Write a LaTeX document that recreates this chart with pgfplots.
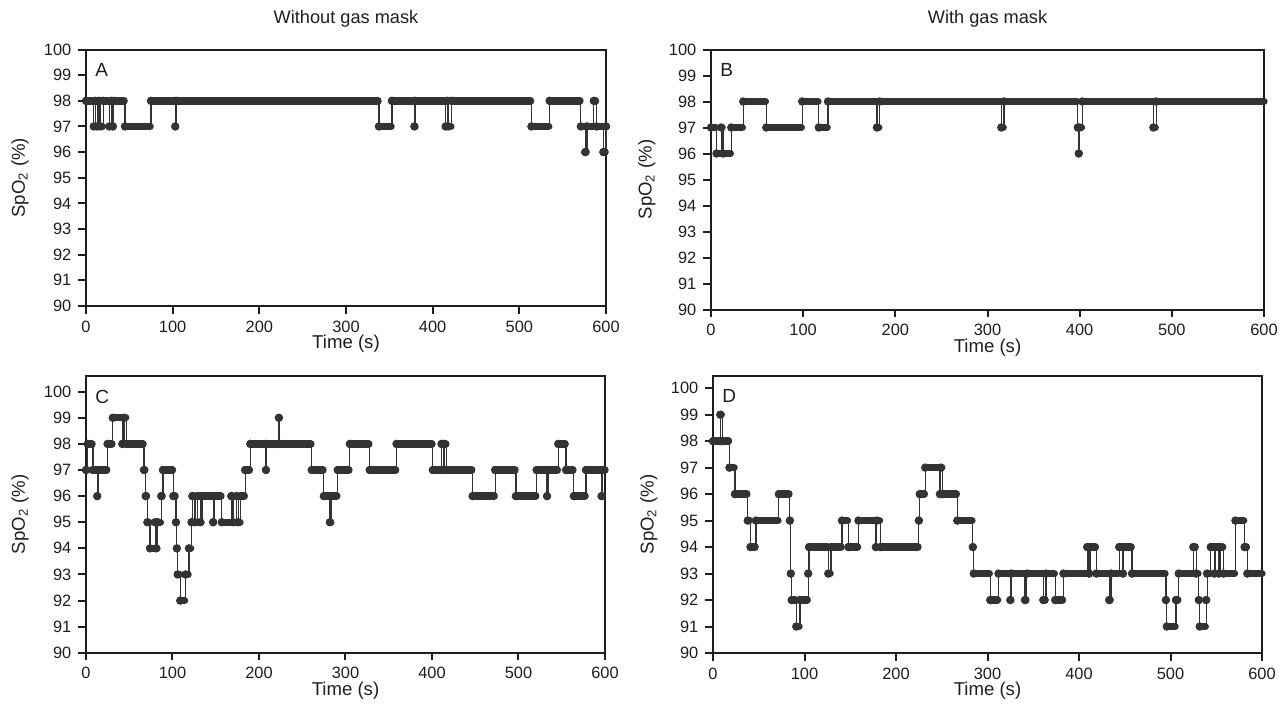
\documentclass[border=0pt]{standalone}
\usepackage{fontspec}
\setmainfont{Liberation Sans}
\usepackage{pgfplots}
\usepackage{pgfplotstable}
\pgfplotsset{compat=1.18}
\definecolor{dgray}{HTML}{333333}
\definecolor{axgray}{HTML}{1E1E1E}

% runs of equal SpO2: start (s), end (s), value (%)
\pgfplotstableread{
t0 t1 v
0 8 98
9 10 97
11 12 98
13 14 97
15 16 98
17 19 97
20 26 98
27 28 97
29 30 98
31 31 97
32 44 98
45 74 97
75 102 98
103 103 97
104 337 98
338 352 97
353 378 98
379 379 97
380 414 98
415 416 97
417 417 98
418 421 97
422 513 98
514 534 97
535 570 98
571 575 97
576 577 96
578 585 97
586 588 98
589 596 97
597 599 96
600 600 97
}\runsA

\pgfplotstableread{
t0 t1 v
0 5 97
6 10 96
11 12 97
13 21 96
22 34 97
35 59 98
60 98 97
99 116 98
117 126 97
127 179 98
180 182 97
183 314 98
315 317 97
318 397 98
398 398 97
399 399 96
400 402 97
403 479 98
480 482 97
483 600 98
}\runsB

\pgfplotstableread{
t0 t1 v
0 1 97
2 7 98
8 12 97
13 13 96
14 24 97
25 30 98
31 41 99
42 43 98
44 46 99
47 66 98
67 68 97
69 70 96
71 73 95
74 79 94
80 80 95
81 82 94
83 86 95
87 88 96
89 100 97
101 103 96
104 104 95
105 105 94
106 108 93
109 114 92
115 118 93
119 121 94
122 122 95
123 125 96
126 128 95
129 131 96
132 133 95
134 146 96
147 147 95
148 156 96
157 167 95
168 169 96
170 173 95
174 175 96
176 178 95
179 183 96
184 189 97
190 207 98
208 208 97
209 222 98
223 223 99
224 260 98
261 274 97
275 281 96
282 283 95
284 290 96
291 304 97
305 327 98
328 358 97
359 400 98
401 410 97
411 412 98
413 413 97
414 416 98
417 446 97
447 472 96
473 496 97
497 520 96
521 532 97
533 533 96
534 545 97
546 554 98
555 563 97
564 577 96
578 595 97
596 596 96
597 600 97
}\runsC

\pgfplotstableread{
t0 t1 v
0 7 98
8 9 99
10 17 98
18 23 97
24 37 96
38 40 95
41 46 94
47 71 95
72 83 96
84 84 95
85 85 93
86 90 92
91 94 91
95 103 92
104 104 93
105 125 94
126 128 93
129 140 94
141 147 95
148 158 94
159 177 95
178 178 94
179 182 95
183 224 94
225 225 95
226 231 96
232 247 97
248 248 96
249 250 97
251 266 96
267 283 95
284 284 94
285 302 93
303 311 92
312 324 93
325 325 92
326 340 93
341 342 92
343 360 93
361 363 92
364 373 93
374 382 92
383 408 93
409 410 94
411 411 93
412 418 94
419 432 93
433 434 92
435 443 93
444 447 94
448 448 93
449 457 94
458 494 93
495 495 92
496 505 91
506 508 92
509 524 93
525 527 94
528 530 93
531 531 92
532 538 91
539 539 92
540 543 93
544 547 94
548 548 93
549 552 94
553 553 93
554 557 94
558 570 93
571 580 95
581 583 94
584 600 93
}\runsD

\pgfplotsset{
  panel/.style={
    scale only axis, anchor=south west,
    xmin=0, xmax=600, ymin=90,
    xtick={0,100,...,600}, ytick={90,91,...,100},
    tick pos=left, tick align=outside,
    major tick length=3.8pt,
    axis line style={line width=1pt, axgray},
    tick style={line width=1pt, axgray},
    tick label style={font=\fontsize{8.2}{9}\selectfont, text=axgray},
    /pgf/number format/assume math mode=true,
    xlabel={Time (s)}, ylabel={SpO\textsubscript{2} (\%)},
    label style={font=\fontsize{9.3}{11}\selectfont, text=axgray},
    title style={font=\fontsize{9.1}{11}\selectfont, text=axgray, at={(0.5,1)}, anchor=center, yshift=9.25pt},
    clip=false,
  },
  thinline/.style={const plot, dgray, line width=0.6pt, mark=none},
  bars/.style={only marks, mark=*, mark size=1.9pt, dgray,
    error bars/.cd, x dir=plus, x explicit, error mark=none,
    error bar style={line width=3.7pt, line cap=round, dgray}},
}
\newcommand{\panelletter}[1]{\node[anchor=north west, inner sep=0pt, xshift=4.5pt, yshift=-6.75pt, font=\fontsize{9.5}{11}\selectfont, text=axgray] at (rel axis cs:0,1) {#1};}

\begin{document}
\begin{tikzpicture}
\useasboundingbox (0,0) rectangle (640pt,354.5pt);

\begin{axis}[panel, at={(43pt,201.5pt)}, width=260pt, height=128.25pt, ymax=100,
  title={Without gas mask},
  xlabel style={at={(axis description cs:0.5,-0.148)}, anchor=center},
  ylabel style={at={(axis description cs:-0.127,0.5)}, anchor=center}]
\addplot[thinline] table[x=t0, y=v] {\runsA};
\addplot[bars] table[x=t0, y=v, x error expr=\thisrow{t1}-\thisrow{t0}] {\runsA};
\panelletter{A}
\end{axis}

\begin{axis}[panel, at={(355.5pt,199.75pt)}, width=276.5pt, height=130pt, ymax=100,
  title={With gas mask},
  xlabel style={at={(axis description cs:0.5,-0.146)}, anchor=center},
  ylabel style={at={(axis description cs:-0.116,0.5)}, anchor=center}]
\addplot[thinline] table[x=t0, y=v] {\runsB};
\addplot[bars] table[x=t0, y=v, x error expr=\thisrow{t1}-\thisrow{t0}] {\runsB};
\panelletter{B}
\end{axis}

\begin{axis}[panel, at={(43pt,28.1pt)}, width=259.5pt, height=138.4pt, ymax=100.6,
  xlabel style={at={(axis description cs:0.5,-0.137)}, anchor=center},
  ylabel style={at={(axis description cs:-0.127,0.5)}, anchor=center}]
\addplot[thinline] table[x=t0, y=v] {\runsC};
\addplot[bars] table[x=t0, y=v, x error expr=\thisrow{t1}-\thisrow{t0}] {\runsC};
\panelletter{C}
\end{axis}

\begin{axis}[panel, at={(356.5pt,28pt)}, width=274.5pt, height=138.5pt, ymax=100.46,
  xlabel style={at={(axis description cs:0.5,-0.137)}, anchor=center},
  ylabel style={at={(axis description cs:-0.117,0.5)}, anchor=center}]
\addplot[thinline] table[x=t0, y=v] {\runsD};
\addplot[bars] table[x=t0, y=v, x error expr=\thisrow{t1}-\thisrow{t0}] {\runsD};
\panelletter{D}
\end{axis}
\end{tikzpicture}
\end{document}
